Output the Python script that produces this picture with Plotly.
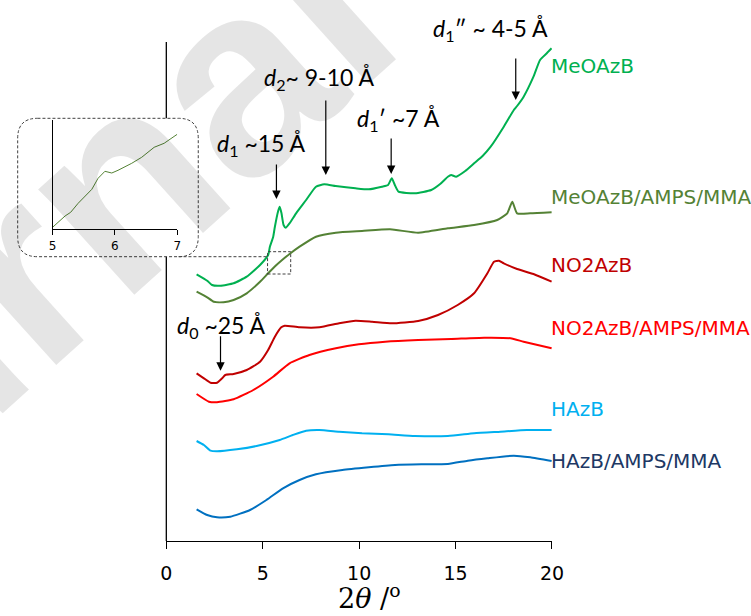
import plotly.graph_objects as go

# ---------------- data (2theta in degrees, intensity in a.u., curves offset) ----------------
meo_x = [1.57, 2.12, 2.37, 2.81, 3.49, 4.17, 4.86, 5.28, 5.37, 5.54, 5.63, 5.80, 5.88, 5.97, 6.08, 6.19,
         6.39, 6.73, 7.25, 7.76, 8.19, 8.78, 9.81, 10.50, 11.18, 11.50, 11.69, 11.85, 12.04, 12.89,
         13.74, 14.20, 14.60, 14.77, 15.03, 15.50, 15.96, 16.40, 16.82, 17.50, 18.02, 18.19, 18.53, 19.04, 19.38, 19.73, 19.98]
meo_y = [266.7, 260.3, 256.0, 255.3, 257.7, 264.3, 276.0, 286.0, 294.3, 304.0, 314.3, 330.0, 334.3, 328.0, 316.0, 313.3,
         317.7, 327.7, 341.0, 354.3, 356.7, 355.0, 352.7, 351.7, 354.3, 356.0, 362.7, 356.0, 349.3, 347.7,
         351.0, 357.0, 364.3, 366.0, 364.3, 370.0, 377.7, 385.0, 394.3, 414.3, 431.0, 435.0, 444.3, 464.3, 481.0, 487.7, 492.7]

meo_amps_x = [1.57, 2.12, 2.46, 2.97, 3.49, 4.17, 4.86, 5.28, 5.71, 5.96, 6.39, 6.91, 7.76, 8.79, 10.15,
              11.60, 13.06, 14.60, 15.96, 17.16, 17.68, 17.94, 18.19, 18.87, 19.98]
meo_amps_y = [249.3, 243.7, 239.3, 238.7, 241.0, 247.7, 259.3, 267.7, 276.0, 280.3, 287.0, 294.3, 304.3, 308.3, 310.0,
              311.7, 308.3, 312.7, 316.0, 321.0, 327.7, 339.3, 327.7, 327.7, 328.7]

no2_x = [1.57, 1.95, 2.29, 2.63, 2.89, 3.06, 3.49, 4.17, 4.86, 5.28, 5.63, 5.96, 6.14, 6.91, 7.94,
         8.96, 9.81, 10.67, 11.69, 13.06, 14.09, 15.11, 15.96, 16.65, 16.99, 17.25, 17.50, 18.19, 19.04, 19.98]
no2_y = [167.7, 162.7, 158.3, 158.3, 162.7, 166.0, 167.0, 171.0, 179.3, 191.0, 204.3, 213.7, 215.3, 213.7, 213.7,
         217.7, 220.3, 219.3, 217.7, 220.0, 226.0, 236.0, 247.7, 267.7, 279.3, 280.3, 277.7, 272.0, 267.0, 259.3]

no2_amps_x = [1.57, 2.21, 2.63, 3.49, 4.51, 5.54, 6.39, 7.42, 8.79, 9.98, 11.35, 13.06, 14.77, 16.48, 17.85, 18.53, 19.98]
no2_amps_y = [147.0, 139.3, 138.7, 141.7, 151.0, 164.3, 177.7, 186.0, 192.7, 196.7, 199.3, 201.0, 202.0, 203.3, 202.7, 199.3, 192.7]

h_x = [1.57, 1.95, 2.29, 2.63, 3.66, 4.68, 5.88, 6.56, 7.25, 7.94, 8.96, 10.15, 11.52, 12.89, 14.60, 15.96, 17.33, 18.70, 19.98]
h_y = [100.0, 96.0, 90.3, 89.7, 91.7, 95.0, 101.0, 106.0, 110.3, 111.0, 109.3, 107.7, 106.7, 105.0, 105.0, 107.7, 109.3, 111.0, 111.0]

h_amps_x = [1.57, 2.12, 2.63, 3.32, 4.34, 5.19, 6.05, 6.91, 7.76, 9.13, 10.50, 11.86, 13.23, 14.60, 15.63, 16.65, 18.02, 18.87, 19.98]
h_amps_y = [31.7, 26.0, 23.7, 24.3, 31.0, 41.0, 52.7, 61.0, 66.7, 71.0, 73.7, 76.0, 76.7, 77.0, 80.3, 82.7, 85.3, 83.7, 80.0]

inset_x = [5.00, 5.07, 5.20, 5.29, 5.41, 5.63, 5.73, 5.84, 5.95, 6.05, 6.27, 6.43, 6.63, 6.79, 7.00]
inset_y = [2, 6, 13.3, 17, 26, 40, 51, 58, 56.3, 59, 66, 72, 82, 86, 95]

series_names = ["MeOAzB", "MeOAzB/AMPS/MMA", "NO2AzB", "NO2AzB/AMPS/MMA", "HAzB", "HAzB/AMPS/MMA"]
series_x = [meo_x, meo_amps_x, no2_x, no2_amps_x, h_x, h_amps_x]
series_y = [meo_y, meo_amps_y, no2_y, no2_amps_y, h_y, h_amps_y]
line_colors = ["#00B050", "#548235", "#C00000", "#FF0000", "#00B0F0", "#0070C0"]
label_colors = ["#00B050", "#548235", "#C00000", "#FF0000", "#00B0F0", "#203864"]
label_y = [475, 344, 276, 213, 132, 80]

x_ticks = [0, 5, 10, 15, 20]
inset_ticks = [5, 6, 7]

# peak annotations: tip position (data), arrow length (px), text centre
peak_labels = ["<i>d</i><sub>0</sub> ~25 Å", "<i>d</i><sub>1</sub> ~15 Å", "<i>d</i><sub>2</sub>~ 9-10 Å",
               "<i>d</i><sub>1</sub>′ ~7 Å", "<i>d</i><sub>1</sub>″ ~ 4-5 Å"]
peak_tip_x = [2.81, 5.71, 8.27, 11.66, 18.12]
peak_tip_y = [170.3, 342.0, 366.0, 367.0, 441.0]
peak_arrow_len = [36, 36, 76, 37, 43]
peak_text_x = [2.87, 4.95, 7.91, 12.05, 16.80]
peak_text_y = [215, 397, 462, 422, 511]

# ---------------- layout helpers ----------------
W, H = 751, 616
ML, MR, MT, MB = 10, 199, 42, 75
PW, PH = W - ML - MR, H - MT - MB


def px(xp):
    return (xp - ML) / PW


def py(yp):
    return (H - MB - yp) / PH


fig = go.Figure()

for name, xs, ys, c in zip(series_names, series_x, series_y, line_colors):
    fig.add_trace(go.Scatter(x=xs, y=ys, mode="lines", name=name,
                             line=dict(color=c, width=2, shape="spline", smoothing=0.5), xaxis="x", yaxis="y"))

fig.add_trace(go.Scatter(x=inset_x, y=inset_y, mode="lines", line=dict(color="#548235", width=1),
                         xaxis="x2", yaxis="y2"))

annotations = []
# watermark
annotations.append(dict(text="<b>Journal Pre-proof</b>", xref="paper", yref="paper", x=px(465), y=py(-129),
                        showarrow=False, textangle=-42, xanchor="center", yanchor="middle",
                        font=dict(family="Liberation Sans", size=270, color="rgba(0,0,0,0.1)")))

for name, c, ly in zip(series_names, label_colors, label_y):
    annotations.append(dict(text=name, xref="x", yref="y", x=20, y=ly, xanchor="left", yanchor="middle",
                            showarrow=False, xshift=-3,
                            font=dict(family="DejaVu Sans", size=20, color=c)))

for t, tx, ty, L, lx, lyy in zip(peak_labels, peak_tip_x, peak_tip_y, peak_arrow_len, peak_text_x, peak_text_y):
    annotations.append(dict(text="", x=tx, y=ty, xref="x", yref="y", ax=0, ay=-L, showarrow=True,
                            arrowhead=2, arrowsize=1.4, arrowwidth=1.2, arrowcolor="black"))
    annotations.append(dict(text=t, x=lx, y=lyy / PH, xref="x", yref="paper", showarrow=False,
                            xanchor="center", yanchor="middle",
                            font=dict(family="Lato", size=23, color="black")))

# axis title
annotations.append(dict(text="2<i>θ</i> /<sup>o</sup>", xref="paper", yref="paper", x=px(367), y=py(596),
                        showarrow=False, xanchor="center", yanchor="middle",
                        font=dict(family="DejaVu Serif", size=27, color="black")))

shapes = []
# main y axis line, interrupted by the inset
shapes.append(dict(type="line", xref="paper", yref="paper", x0=px(162), x1=px(162), y0=py(42), y1=py(118.3),
                   line=dict(color="black", width=1.3)))
shapes.append(dict(type="line", xref="paper", yref="paper", x0=px(162), x1=px(162), y0=py(256.7), y1=py(541),
                   line=dict(color="black", width=1.3)))
# inset rounded dashed box
L_, R_, T_, B_, r = 11.7, 194.3, 118.3, 256.7, 20


def P(a, b):
    return f"{px(a):.5f},{py(b):.5f}"


path = (f"M{P(L_ + r, T_)} L{P(R_ - r, T_)} Q{P(R_, T_)} {P(R_, T_ + r)} L{P(R_, B_ - r)} "
        f"Q{P(R_, B_)} {P(R_ - r, B_)} L{P(L_ + r, B_)} Q{P(L_, B_)} {P(L_, B_ - r)} "
        f"L{P(L_, T_ + r)} Q{P(L_, T_)} {P(L_ + r, T_)} Z")
dash = dict(color="#404040", width=1, dash="3px,2px")
shapes.append(dict(type="path", xref="paper", yref="paper", path=path, line=dash))
shapes.append(dict(type="line", xref="paper", yref="paper", x0=px(R_ - r), x1=px(264.3), y0=py(B_), y1=py(B_), line=dash))
shapes.append(dict(type="rect", xref="x", yref="y", x0=5.25, x1=6.45, y0=267, y1=289.3, line=dash))

fig.update_layout(
    width=W, height=H, margin=dict(l=ML, r=MR, t=MT, b=MB),
    paper_bgcolor="white", plot_bgcolor="rgba(0,0,0,0)", showlegend=False,
    xaxis=dict(domain=[px(162), 1], range=[0, 20], anchor="y", showline=True, linecolor="black", linewidth=1.3,
               ticks="outside", ticklen=7, tickwidth=1.3, tickcolor="black", tickvals=x_ticks,
               ticklabelstandoff=8,
               tickfont=dict(family="DejaVu Sans", size=19, color="black"), showgrid=False, zeroline=False),
    yaxis=dict(domain=[0, 1], range=[0, PH], anchor="x", showline=False, showticklabels=False, ticks="",
               showgrid=False, zeroline=False),
    xaxis2=dict(domain=[px(47), px(173)], range=[5, 7], anchor="y2", showline=True, linecolor="black", linewidth=1,
                ticks="outside", ticklen=5, tickwidth=1, tickcolor="black", tickvals=inset_ticks,
                tickfont=dict(family="DejaVu Sans", size=12, color="black"), showgrid=False, zeroline=False),
    yaxis2=dict(domain=[py(229.3), py(120)], range=[0, 109.3], anchor="x2", showline=True, linecolor="black",
                linewidth=1, showticklabels=False, ticks="", showgrid=False, zeroline=False),
    annotations=annotations, shapes=shapes,
)

fig.write_html("out.html")
